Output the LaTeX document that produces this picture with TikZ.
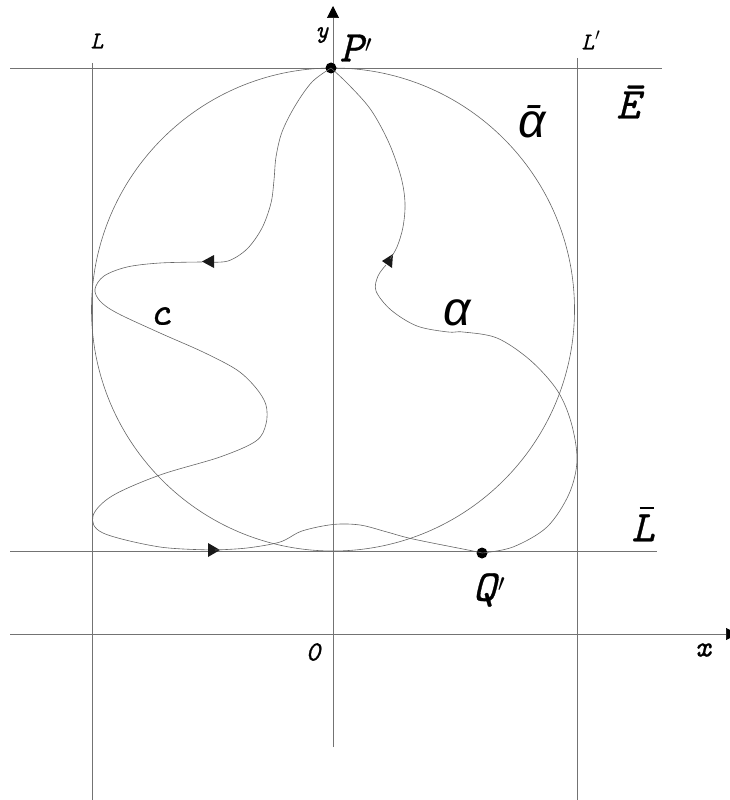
\documentclass[tikz,border=0pt]{standalone}
\usepackage{fontspec}
\newfontfamily\asans{Liberation Sans}
\newfontfamily\labfont[FakeBold=0.7]{Latin Modern Mono}
\usetikzlibrary{arrows.meta}
\tikzset{
  gline/.style={draw=black!55, line width=0.7pt},
  gcurve/.style={draw=black!60, line width=0.6pt},
  axarrow/.style={-{Triangle[length=12pt,width=12pt,color=black,fill=black]}},
  dotnode/.style={circle, fill=black, inner sep=0pt, minimum size=11pt},
  biglab/.style={inner sep=0pt, font=\labfont\itshape\fontsize{44}{44}\selectfont},
  smalllab/.style={inner sep=0pt, font=\labfont\itshape\fontsize{24}{24}\selectfont},
  alab/.style={inner sep=0pt, font=\asans\itshape\fontsize{48}{48}\selectfont},
  headtri/.style={fill=black!90, draw=none},
}
\begin{document}
\begin{tikzpicture}[x=1pt, y=-1pt]
\path[use as bounding box] (0,0) rectangle (730,800);

% reference lines
\coordinate (Lt) at (92,63);   \coordinate (Lb) at (92,800);
\coordinate (L2t) at (577,58); \coordinate (L2b) at (577,800);
\coordinate (Et1) at (10,68);  \coordinate (Et2) at (662,68);
\coordinate (Lh1) at (10,551.5); \coordinate (Lh2) at (657,551.5);
\coordinate (xa1) at (10,634); \coordinate (xa2) at (738,634);
\coordinate (ya1) at (333,747); \coordinate (ya2) at (333,6);
\draw[gline] (Lt) -- (Lb);
\draw[gline] (L2t) -- (L2b);
\draw[gline] (Et1) -- (Et2);
\draw[gline] (Lh1) -- (Lh2);
\draw[gline, axarrow] (xa1) -- (xa2);
\draw[gline, axarrow] (ya1) -- (ya2);

% circle
\coordinate (O) at (333,309.5);
\draw[gcurve] (O) circle[radius=241.5pt];

% points
\node[dotnode] (P) at (331,68) {};
\node[dotnode] (Q) at (482,553) {};

% curve c
\draw[gcurve] plot[smooth, tension=0.55] coordinates {(P) (312,82) (295,106) (282,132) (276,157) (274,180) (271,203) (262,228) (247,249) (228,261) (207,262)};
\fill[headtri] (202,261.5) -- (214,255) -- (214,268) -- cycle;
\draw[gcurve] plot[smooth, tension=0.55] coordinates {(202,262) (160,263) (127,267) (104,276) (95,289) (100,301) (117,313) (160,333) (203,352) (237,370) (256,388) (266,405) (266,424) (256,441) (220,457) (160,475) (112,496) (93,516) (103,533) (160,547) (215,550)};
\fill[headtri] (220,550) -- (208,543) -- (208,557) -- cycle;
\draw[gcurve] plot[smooth, tension=0.55] coordinates {(215,550) (247,548) (280,542) (302,531) (333,524.5) (360,525) (387,532) (413,539) (473,551) (Q)};

% curve alpha
\draw[gcurve] plot[smooth, tension=0.55] coordinates {(Q) (513,547) (547,527) (569,494) (577,460) (571,422) (557,390) (530,360) (497,338) (463,332) (448,332) (417,326) (391,310) (376,291) (378,276) (386,265)};
\fill[headtri] (382,261) -- (393,254) -- (392,268) -- cycle;
\draw[gcurve] plot[smooth, tension=0.55] coordinates {(390,259) (397,247) (403,227) (405,203) (401,177) (389,143) (371,110) (349,85) (P)};

% labels
\node[smalllab] (labL) at (97,41) {L};
\node[smalllab] (labL2) at (591,40) {L\kern1pt$'$};
\node[smalllab] (laby) at (322,35) {y};
\node[biglab] (labP) at (356,48) {P\kern2pt$'$};
\node[biglab] (labE) at (628,102) {\=E};
\node[alab] (laba2) at (532,122) {\=α};
\node[alab] (laba) at (457,313) {α};
\node[biglab, font=\labfont\itshape\fontsize{40}{40}\selectfont] (labc) at (160,316) {c};
\node[biglab] (labL3) at (643,524) {L\llap{\rule[32pt]{14pt}{2.6pt}\kern1pt}};
\node[biglab] (labQ) at (489,590) {Q\kern2pt$'$};
\node[smalllab, font=\labfont\itshape\fontsize{28}{28}\selectfont] (lab0) at (313,652) {0};
\node[smalllab, font=\labfont\itshape\fontsize{30}{30}\selectfont] (labx) at (703,650) {x};
\end{tikzpicture}
\end{document}
